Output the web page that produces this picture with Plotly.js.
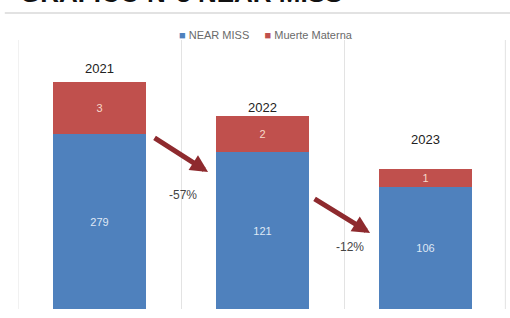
<!DOCTYPE html>
<html><head><meta charset="utf-8">
<script src="https://cdn.plot.ly/plotly-3.0.1.min.js"></script>
<style>html,body{margin:0;padding:0;background:#fff}#c{width:510px;height:318px}</style>
</head><body><div id="c"></div>
<script>
// Categories
const years = ['2021', '2022', '2023'];
// Values shown on the bars
const nearMiss = [279, 121, 106];
const muerteMaterna = [3, 2, 1];
// Drawn bar heights (chart is not to scale)
const nearMissHeight = [175, 157, 122];
const muerteHeight = [52, 36, 18];
// Change labels between years
const changeLabels = ['-57%', '-12%'];
const seriesNames = ['NEAR MISS', 'Muerte Materna'];
const seriesColors = ['#4F81BD', '#C0504D'];

const xs = years.map((_, i) => i);
const FONT = 'Liberation Sans, Arial';

const traces = [
  {type: 'bar', name: seriesNames[0], x: xs, y: nearMissHeight,
   text: nearMiss.map(String), textposition: 'inside', insidetextanchor: 'middle',
   textfont: {color: '#dfe8f5', size: 11, family: FONT},
   marker: {color: seriesColors[0]}, hoverinfo: 'skip'},
  {type: 'bar', name: seriesNames[1], x: xs, y: muerteHeight,
   text: muerteMaterna.map(String), textposition: 'inside', insidetextanchor: 'middle',
   textfont: {color: '#f7d9c9', size: 11, family: FONT},
   marker: {color: seriesColors[1]}, hoverinfo: 'skip'}
];

const yearY = [241, 202, 170];
const annotations = [];
years.forEach((y, i) => annotations.push({
  x: i, y: yearY[i], xref: 'x', yref: 'y', text: y, showarrow: false,
  font: {size: 13, color: '#222', family: FONT}, yanchor: 'middle'
}));
// arrows
annotations.push({x: 0.666, y: 137, xref: 'x', yref: 'y', ax: -55, ay: -35, showarrow: true,
  arrowhead: 2, arrowsize: 0.7, arrowwidth: 5, arrowcolor: '#8E2A2E', standoff: 0, text: ''});
annotations.push({x: 1.66, y: 76, xref: 'x', yref: 'y', ax: -57, ay: -35, showarrow: true,
  arrowhead: 2, arrowsize: 0.7, arrowwidth: 5, arrowcolor: '#8E2A2E', standoff: 0, text: ''});
annotations.push({x: 0.512, y: 114, xref: 'x', yref: 'y', text: changeLabels[0], showarrow: false,
  font: {size: 12, color: '#444', family: FONT}});
annotations.push({x: 1.537, y: 62, xref: 'x', yref: 'y', text: changeLabels[1], showarrow: false,
  font: {size: 12, color: '#444', family: FONT}});
// legend drawn as text
annotations.push({x: 0.508, y: 1.0186, xref: 'paper', yref: 'paper', xanchor: 'center', yanchor: 'middle',
  showarrow: false,
  text: '<span style="color:' + seriesColors[0] + '">■</span>&nbsp;' + seriesNames[0] +
        '&nbsp;&nbsp;&nbsp;&nbsp;&nbsp;<span style="color:' + seriesColors[1] + '">■</span>&nbsp;' + seriesNames[1],
  font: {size: 11, color: '#6a6a6a', family: FONT}});
// cropped title
annotations.push({x: 0.0, y: 1.11, xref: 'paper', yref: 'paper', xanchor: 'left', yanchor: 'bottom',
  text: '<b>GRÁFICO N°3 NEAR MISS</b>', showarrow: false,
  font: {size: 26, color: '#111', family: FONT}});

const layout = {
  width: 510, height: 318,
  margin: {l: 18, r: 3, t: 40, b: 9},
  paper_bgcolor: '#fff', plot_bgcolor: '#fff',
  barmode: 'stack', bargap: 0.435,
  showlegend: false,
  xaxis: {type: 'linear', range: [-0.5, 2.5], tickvals: [-0.5, 0.5, 1.5, 2.5],
    showticklabels: false, showgrid: true, gridcolor: '#e3e3e3', zeroline: false,
    ticks: '', showline: false, fixedrange: true},
  yaxis: {range: [0, 269], visible: false, showgrid: false, zeroline: false, fixedrange: true},
  shapes: [
    {type: 'line', xref: 'paper', yref: 'paper', x0: -0.027, x1: 1.01,
     y0: 1.1004, y1: 1.1004, line: {color: '#e2e2e2', width: 2}},
    {type: 'line', xref: 'x', yref: 'paper', x0: -0.5, x1: -0.5, y0: 0, y1: 1,
     line: {color: '#e3e3e3', width: 1}},
    {type: 'line', xref: 'x', yref: 'paper', x0: 2.49, x1: 2.49, y0: 0, y1: 1,
     line: {color: '#e3e3e3', width: 1}}
  ],
  annotations: annotations
};
Plotly.newPlot('c', traces, layout, {displayModeBar: false, staticPlot: true});
</script></body></html>
